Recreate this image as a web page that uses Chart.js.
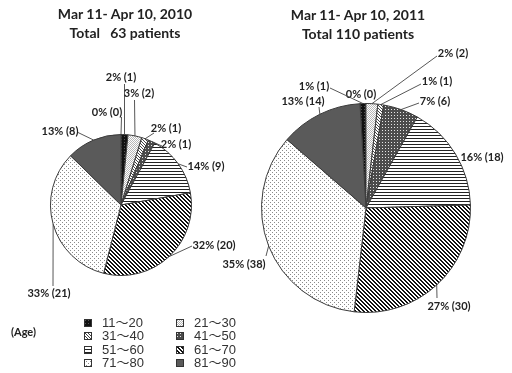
<!DOCTYPE html>
<html>
<head>
<meta charset="utf-8">
<script src="https://cdn.jsdelivr.net/npm/chart.js@4"></script>
<style>
  body { margin: 0; background: #fff; }
  #wrap { position: relative; width: 512px; height: 373px; overflow: hidden; }
  canvas.pie { position: absolute; left: 0; top: 0; }
  .title { position: absolute; font: bold 14px Lato, sans-serif; color: #222; text-align: center; white-space: pre; line-height: 19px; width: 200px; }
  .age { position: absolute; left: 11px; top: 325px; font: bold 11px Lato, sans-serif; color: #222; }
  .leg { position: absolute; font: 13px "Liberation Sans", "Noto Sans CJK JP", sans-serif; color: #333; white-space: nowrap; line-height: 14px; }
  .leg canvas { position: absolute; left: 0; top: 3px; }
  .leg span { position: absolute; left: 18px; top: 0; }
</style>
</head>
<body>
<div id="wrap">
  <canvas id="pie2010" class="pie" width="512" height="373"></canvas>
  <canvas id="pie2011" class="pie" width="512" height="373"></canvas>
  <div class="title" id="t2010" style="left:25px; top:4px;"></div>
  <div class="title" id="t2011" style="left:258px; top:5px;"></div>
  <div class="age">(Age)</div>
  <div id="legend"></div>
</div>
<script>
// 年齢区分（先頭は凡例に出ない 0 人の区分）
const ageGroups = ['0～10', '11～20', '21～30', '31～40', '41～50', '51～60', '61～70', '71～80', '81～90'];
const legendGroups = ageGroups.slice(1);

const titles2010 = ['Mar 11- Apr 10, 2010', 'Total   63 patients'];
const titles2011 = ['Mar 11- Apr 10, 2011', 'Total 110 patients'];

const counts2010 = [0, 1, 2, 1, 1, 9, 20, 21, 8];
const percents2010 = [0, 2, 3, 2, 2, 14, 32, 33, 13];
const counts2011 = [0, 1, 2, 1, 6, 18, 30, 38, 14];
const percents2011 = [0, 1, 2, 1, 7, 16, 27, 35, 13];

// 模様（タイルのサイズと画素ごとの色）
const patternDefs = [
  { n: 2, px: (x, y) => '#ffffff' },
  { n: 3, px: (x, y) => (x == 1 && y == 1) ? '#555' : '#111' },
  { n: 2, px: (x, y) => ((x + y) % 2 == 0) ? '#b8b8b8' : '#ffffff' },
  { n: 3, px: (x, y) => ((x - y + 3) % 3 == 0) ? '#444' : '#ffffff' },
  { n: 3, px: (x, y) => (x == 1 && y == 1) ? '#e6e6e6' : '#4c4c4c' },
  { n: 3, px: (x, y) => (y == 0) ? '#222' : '#ffffff' },
  { n: 4, px: (x, y) => (((x - y) % 4 + 4) % 4 < 2) ? '#111' : '#ffffff' },
  { n: 4, px: (x, y) => ((x == 0 && y == 0) || (x == 2 && y == 2)) ? '#8a8a8a' : '#ffffff' },
  { n: 2, px: (x, y) => '#5a5a5a' }
];

function makeTile(def) {
  const c = document.createElement('canvas');
  c.width = def.n;
  c.height = def.n;
  const g = c.getContext('2d');
  for (let y = 0; y < def.n; y++) {
    for (let x = 0; x < def.n; x++) {
      g.fillStyle = def.px(x, y);
      g.fillRect(x, y, 1, 1);
    }
  }
  return c;
}

const tiles = patternDefs.map(makeTile);
const helperCtx = document.createElement('canvas').getContext('2d');
const patterns = tiles.map(t => helperCtx.createPattern(t, 'repeat'));

// ラベルの配置（文字の中心と引き出し線の始点）
const layout2010 = [
  { x: 107, y: 112, lead: [121.5, 117] },
  { x: 121, y: 77, lead: [124.5, 84] },
  { x: 139, y: 93, lead: [134.5, 100] },
  { x: 166, y: 128, lead: [154, 133] },
  { x: 176, y: 144, lead: [162, 146] },
  { x: 206, y: 166, lead: [187, 167] },
  { x: 214, y: 245, lead: [192, 246] },
  { x: 49, y: 293, lead: [53, 286] },
  { x: 60, y: 131, lead: [77, 132] }
];
const layout2011 = [
  { x: 361, y: 94, lead: null },
  { x: 314, y: 86, lead: [330, 88] },
  { x: 453, y: 53, lead: [437, 56] },
  { x: 437, y: 81, lead: [421, 84] },
  { x: 435, y: 101, lead: [419, 103] },
  { x: 482, y: 157, lead: null },
  { x: 449, y: 306, lead: [437, 298] },
  { x: 244, y: 264, lead: [266, 256] },
  { x: 303, y: 101, lead: [319, 107] }
];

function labelPlugin(counts, percents, layout) {
  return {
    id: 'sliceLabels',
    afterDatasetsDraw(chart) {
      const ctx = chart.ctx;
      const arcs = chart.getDatasetMeta(0).data;
      ctx.save();
      ctx.font = 'bold 11px Lato, sans-serif';
      ctx.textAlign = 'center';
      ctx.textBaseline = 'middle';
      ctx.strokeStyle = '#444';
      ctx.lineWidth = 0.9;
      ctx.fillStyle = '#222';
      arcs.forEach((arc, i) => {
        const lay = layout[i];
        const p = arc.getProps(['x', 'y', 'startAngle', 'endAngle', 'outerRadius']);
        const mid = (p.startAngle + p.endAngle) / 2;
        const ax = p.x + Math.cos(mid) * p.outerRadius;
        const ay = p.y + Math.sin(mid) * p.outerRadius;
        if (lay.lead) {
          ctx.beginPath();
          ctx.moveTo(lay.lead[0], lay.lead[1]);
          ctx.lineTo(ax, ay);
          ctx.stroke();
        }
        ctx.fillText(percents[i] + '% (' + counts[i] + ')', lay.x, lay.y);
      });
      ctx.restore();
    }
  };
}

function drawPie(id, counts, percents, layout, rotation, padding) {
  const ctx = document.getElementById(id).getContext('2d');
  new Chart(ctx, {
    type: 'pie',
    data: {
      labels: ageGroups,
      datasets: [{
        data: counts,
        backgroundColor: patterns,
        borderColor: '#3a3a3a',
        borderWidth: c => (counts[c.dataIndex] === 0 ? 0 : 1)
      }]
    },
    options: {
      responsive: false,
      animation: false,
      rotation: rotation,
      layout: { padding: padding },
      plugins: { legend: { display: false }, tooltip: { enabled: false } }
    },
    plugins: [labelPlugin(counts, percents, layout)]
  });
}

drawPie('pie2010', counts2010, percents2010, layout2010, 0, { left: 50, right: 320, top: 134, bottom: 97 });
drawPie('pie2011', counts2011, percents2011, layout2011, -3.3, { left: 261, right: 41, top: 103, bottom: 60 });

document.getElementById('t2010').textContent = titles2010.join('\n');
document.getElementById('t2011').textContent = titles2011.join('\n');

// 凡例
const legendDiv = document.getElementById('legend');
const legendRows = [316, 329, 342.5, 356];
legendGroups.forEach((name, i) => {
  const row = Math.floor(i / 2);
  const col = i % 2;
  const item = document.createElement('div');
  item.className = 'leg';
  item.style.left = (col === 0 ? 84 : 176) + 'px';
  item.style.top = legendRows[row] + 'px';
  const sw = document.createElement('canvas');
  sw.width = 8;
  sw.height = 8;
  const g = sw.getContext('2d');
  g.fillStyle = g.createPattern(tiles[i + 1], 'repeat');
  g.fillRect(0, 0, 8, 8);
  g.strokeStyle = '#333';
  g.lineWidth = 1;
  g.strokeRect(0.5, 0.5, 7, 7);
  const span = document.createElement('span');
  span.textContent = name;
  item.appendChild(sw);
  item.appendChild(span);
  legendDiv.appendChild(item);
});
</script>
</body>
</html>
